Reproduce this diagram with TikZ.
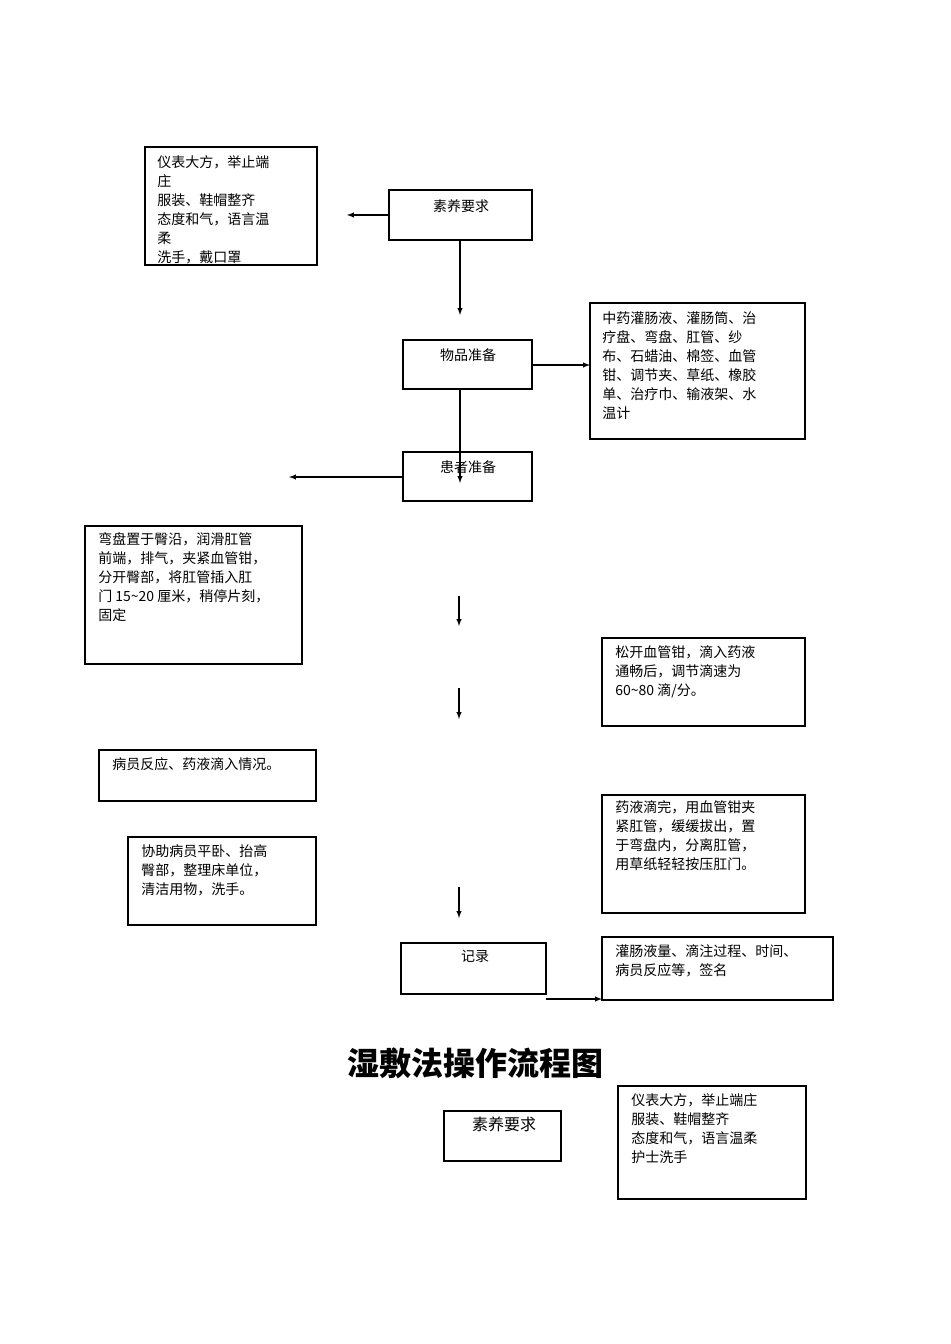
\documentclass[tikz,border=0pt]{standalone}
\usepackage{fontspec}
\setmainfont{Noto Sans CJK SC}
\begin{document}
\begin{tikzpicture}[x=0.75pt,y=-0.75pt,
  box/.style={draw,thick,line width=0.8pt},
  txt/.style={anchor=north west,inner sep=0pt,align=left,font=\fontsize{10.5}{14.25}\selectfont},
  lbl/.style={anchor=north,inner sep=0pt,font=\fontsize{10.5}{14.25}\selectfont},
  arr/.style={-latex,line width=0.8pt}]
\useasboundingbox (0,0) rectangle (950,1344);
% boxes
\draw[box] (145,147) rectangle (317,265);
\node[txt] (t1) at (157,155) {仪表大方，举止端\\庄\\服装、鞋帽整齐\\态度和气，语言温\\柔\\洗手，戴口罩};
\draw[box] (389,190) rectangle (532,240);
\node[lbl] (b1) at (461,199) {素养要求};
\draw[arr] (389,215) -- (347,215);
\draw[arr] (460,240) -- (460,315);
\draw[box] (403,340) rectangle (532,389);
\node[lbl] (b2) at (468,348) {物品准备};
\draw[arr] (532,365) -- (590,365);
\draw[box] (590,303) rectangle (805,439);
\node[txt] (t2) at (602,311) {中药灌肠液、灌肠筒、治\\疗盘、弯盘、肛管、纱\\布、石蜡油、棉签、血管\\钳、调节夹、草纸、橡胶\\单、治疗巾、输液架、水\\温计};
\draw[box] (403,452) rectangle (532,501);
\node[lbl] (b3) at (468,460) {患者准备};
\draw[arr] (460,389) -- (460,483);
\draw[arr] (403,477) -- (289,477);
\draw[box] (85,526) rectangle (302,664);
\node[txt] (t3) at (98,532) {弯盘置于臀沿，润滑肛管\\前端，排气，夹紧血管钳，\\分开臀部，将肛管插入肛\\门 15\textasciitilde20 厘米，稍停片刻，\\固定};
\draw[arr] (459,596) -- (459,626);
\draw[box] (602,638) rectangle (805,726);
\node[txt] (t4) at (615,645) {松开血管钳，滴入药液\\通畅后，调节滴速为\\60\textasciitilde80 滴/分。};
\draw[arr] (459,688) -- (459,719);
\draw[box] (99,750) rectangle (316,801);
\node[txt] (t5) at (112,757) {病员反应、药液滴入情况。};
\draw[box] (602,795) rectangle (805,913);
\node[txt] (t6) at (615,800) {药液滴完，用血管钳夹\\紧肛管，缓缓拔出，置\\于弯盘内，分离肛管，\\用草纸轻轻按压肛门。};
\draw[box] (128,837) rectangle (316,925);
\node[txt] (t7) at (141,844) {协助病员平卧、抬高\\臀部，整理床单位，\\清洁用物，洗手。};
\draw[arr] (459,887) -- (459,918);
\draw[box] (401,943) rectangle (546,994);
\node[lbl] (b4) at (475,950) {记录};
\draw[arr] (546,999) -- (602,999);
\draw[box] (602,937) rectangle (833,1000);
\node[txt] (t8) at (615,944) {灌肠液量、滴注过程、时间、\\病员反应等，签名};
\node[font=\fontsize{24}{28}\selectfont\bfseries] (title) at (475,1063) {湿敷法操作流程图};
\draw[box] (444,1111) rectangle (561,1161);
\node[lbl,font=\fontsize{12}{15}\selectfont] (b5) at (504,1117) {素养要求};
\draw[box] (618,1086) rectangle (806,1199);
\node[txt] (t9) at (631,1093) {仪表大方，举止端庄\\服装、鞋帽整齐\\态度和气，语言温柔\\护士洗手};
\end{tikzpicture}
\end{document}
